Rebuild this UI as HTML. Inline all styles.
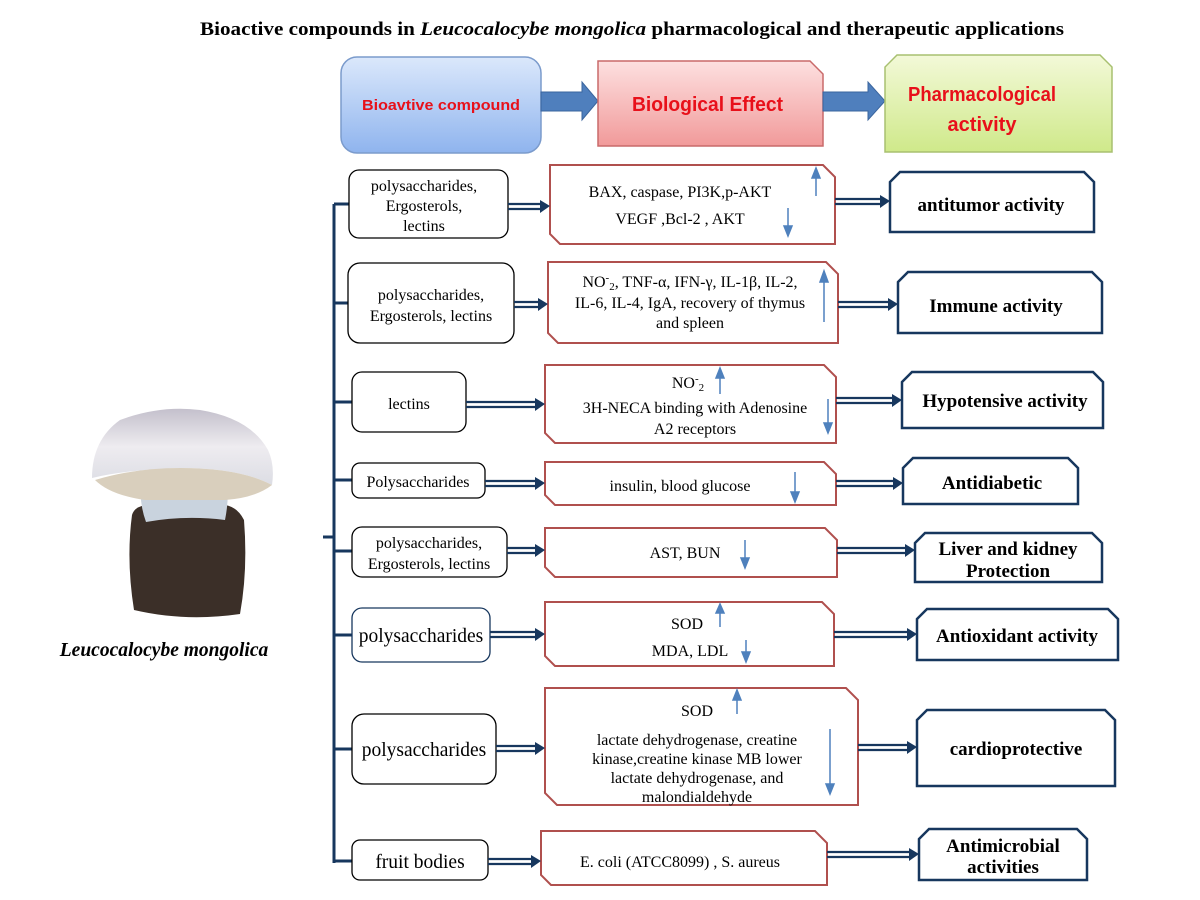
<!DOCTYPE html>
<html><head><meta charset="utf-8"><style>
body{margin:0;background:#fff}
svg{display:block}
text{font-family:"Liberation Serif",serif;fill:#000}
.s{font-size:16px}
.b{font-size:19px;font-weight:bold}
.h{font-family:"Liberation Sans",sans-serif;font-weight:bold;fill:#e8101a}
</style></head><body>
<svg width="1200" height="900" viewBox="0 0 1200 900" xmlns="http://www.w3.org/2000/svg">
<defs>
<linearGradient id="gb" x1="0" y1="0" x2="0" y2="1"><stop offset="0" stop-color="#dbe8fb"/><stop offset="1" stop-color="#8fb4ee"/></linearGradient>
<linearGradient id="gp" x1="0" y1="0" x2="0" y2="1"><stop offset="0" stop-color="#fde0e0"/><stop offset="1" stop-color="#f19a9a"/></linearGradient>
<linearGradient id="gg" x1="0" y1="0" x2="0" y2="1"><stop offset="0" stop-color="#f3f9d8"/><stop offset="1" stop-color="#cfe98a"/></linearGradient>
<linearGradient id="cap" x1="0" y1="0" x2="0" y2="1"><stop offset="0" stop-color="#c4c0cc"/><stop offset="0.5" stop-color="#eeecf0"/><stop offset="1" stop-color="#dcdde4"/></linearGradient>
</defs>
<text x="200" y="35" textLength="864" lengthAdjust="spacingAndGlyphs" style="font-size:19px;font-weight:bold">Bioactive compounds in <tspan font-style="italic">Leucocalocybe mongolica</tspan> pharmacological and therapeutic applications</text>

<!-- header -->
<rect x="341" y="57" width="200" height="96" rx="16" fill="url(#gb)" stroke="#7b9bcc" stroke-width="1.5"/>
<text x="362" y="110" textLength="158" lengthAdjust="spacingAndGlyphs" class="h" style="font-size:15px">Bioavtive compound</text>
<polygon points="541,92 582,92 582,82 598,101 582,120 582,111 541,111" fill="#4f7fbd" stroke="#3a659e"/>
<polygon points="598,61 810,61 823,74 823,146 598,146" fill="url(#gp)" stroke="#c96a6a" stroke-width="1.5"/>
<text x="632" y="111" textLength="151" lengthAdjust="spacingAndGlyphs" class="h" style="font-size:20px">Biological Effect</text>
<polygon points="823,92 868,92 868,82 885,101 868,120 868,111 823,111" fill="#4f7fbd" stroke="#3a659e"/>
<polygon points="897,55 1100,55 1112,67 1112,152 885,152 885,67" fill="url(#gg)" stroke="#a8c070" stroke-width="1.5"/>
<text x="908" y="101" textLength="148" lengthAdjust="spacingAndGlyphs" class="h" style="font-size:20px">Pharmacological</text>
<text x="982" y="131" text-anchor="middle" class="h" style="font-size:20px">activity</text>

<!-- mushroom -->
<path d="M132 515 Q126 560 134 610 Q185 622 240 614 Q248 570 244 520 Q235 502 215 505 L150 505 Q135 505 132 515 Z" fill="#3b2f28"/>
<path d="M142 478 Q138 500 146 522 Q185 515 225 520 Q230 495 226 475 Z" fill="#c9d3de"/>
<path d="M92 478 Q92 440 120 420 Q160 405 200 410 Q250 418 268 450 Q275 465 272 485 Q240 468 180 468 Q125 470 92 478 Z" fill="url(#cap)"/>
<path d="M95 480 Q135 468 180 468 Q240 468 272 485 Q255 498 225 500 L145 500 Q110 495 95 480 Z" fill="#d9cfbd"/>
<text x="164" y="656" text-anchor="middle" style="font-size:19.5px;font-weight:bold;font-style:italic">Leucocalocybe mongolica</text>

<!-- tree -->
<g stroke="#17375e" stroke-width="3" fill="none">
<line x1="334" y1="204" x2="334" y2="863"/>
<line x1="323" y1="537" x2="334" y2="537"/>
<line x1="334" y1="204" x2="349" y2="204"/>
<line x1="334" y1="303" x2="348" y2="303"/>
<line x1="334" y1="402" x2="352" y2="402"/>
<line x1="334" y1="480" x2="352" y2="480"/>
<line x1="334" y1="551" x2="352" y2="551"/>
<line x1="334" y1="635" x2="352" y2="635"/>
<line x1="334" y1="749" x2="352" y2="749"/>
<line x1="334" y1="861" x2="352" y2="861"/>
</g>

<!-- left boxes -->
<g fill="#fff" stroke="#000" stroke-width="1.3">
<rect x="349" y="170" width="159" height="68" rx="10"/>
<rect x="348" y="263" width="166" height="80" rx="12"/>
<rect x="352" y="372" width="114" height="60" rx="10"/>
<rect x="352" y="463" width="133" height="35" rx="8"/>
<rect x="352" y="527" width="155" height="50" rx="10"/>
<rect x="352" y="608" width="138" height="54" rx="10" stroke="#17375e"/>
<rect x="352" y="714" width="144" height="70" rx="12"/>
<rect x="352" y="840" width="136" height="40" rx="8"/>
</g>
<g class="s" text-anchor="middle">
<text x="424" y="191">polysaccharides,</text><text x="424" y="211">Ergosterols,</text><text x="424" y="231">lectins</text>
<text x="431" y="300">polysaccharides,</text><text x="431" y="321">Ergosterols,  lectins</text>
<text x="409" y="409">lectins</text>
<text x="418" y="487">Polysaccharides</text>
<text x="429" y="548">polysaccharides,</text><text x="429" y="569">Ergosterols, lectins</text>
<text x="421" y="642" style="font-size:19.5px">polysaccharides</text>
<text x="424" y="756" style="font-size:19.5px">polysaccharides</text>
<text x="420" y="868" style="font-size:19.5px">fruit bodies</text>
</g>

<!-- middle boxes -->
<g fill="#fff" stroke="#b0504e" stroke-width="2">
<polygon points="550,165 823,165 835,177 835,244 560,244 550,234"/>
<polygon points="548,262 826,262 838,274 838,343 558,343 548,333"/>
<polygon points="545,365 824,365 836,377 836,443 555,443 545,433"/>
<polygon points="545,462 824,462 836,474 836,505 555,505 545,495"/>
<polygon points="545,528 825,528 837,540 837,577 555,577 545,567"/>
<polygon points="545,602 822,602 834,614 834,666 555,666 545,656"/>
<polygon points="545,688 846,688 858,700 858,805 557,805 545,793"/>
<polygon points="541,831 815,831 827,843 827,885 551,885 541,875"/>
</g>
<g class="s" text-anchor="middle">
<text x="680" y="197">BAX, caspase, PI3K,p-AKT</text><text x="680" y="224">VEGF ,Bcl-2 , AKT</text>
<text x="690" y="287">NO<tspan font-size="11" dy="-6">-</tspan><tspan font-size="11" dy="9">2</tspan><tspan dy="-3">, TNF-α, IFN-γ, IL-1β, IL-2,</tspan></text>
<text x="690" y="308">IL-6, IL-4, IgA, recovery of thymus</text><text x="690" y="328">and  spleen</text>
<text x="688" y="388">NO<tspan font-size="11" dy="-6">-</tspan><tspan font-size="11" dy="9">2</tspan></text>
<text x="695" y="413">3H-NECA binding with Adenosine</text><text x="695" y="434">A2 receptors</text>
<text x="680" y="491">insulin, blood glucose</text>
<text x="685" y="558">AST, BUN</text>
<text x="687" y="629">SOD</text><text x="690" y="656">MDA, LDL</text>
<text x="697" y="716">SOD</text>
<text x="697" y="745">lactate dehydrogenase,  creatine</text>
<text x="697" y="764">kinase,creatine kinase MB    lower</text>
<text x="697" y="783">lactate dehydrogenase,  and</text>
<text x="697" y="802">malondialdehyde</text>
<text x="680" y="867">E. coli (ATCC8099) , S. aureus</text>
</g>
<!-- up/down arrows -->
<g stroke="#4f81bd" stroke-width="1.5" fill="#4f81bd">
<line x1="816" y1="196" x2="816" y2="176"/><polygon points="812,178 816,168 820,178"/>
<line x1="788" y1="208" x2="788" y2="228"/><polygon points="784,226 788,236 792,226"/>
<line x1="824" y1="322" x2="824" y2="280"/><polygon points="820,282 824,271 828,282"/>
<line x1="720" y1="394" x2="720" y2="376"/><polygon points="716,378 720,368 724,378"/>
<line x1="828" y1="399" x2="828" y2="425"/><polygon points="824,423 828,433 832,423"/>
<line x1="795" y1="472" x2="795" y2="494"/><polygon points="791,492 795,502 799,492"/>
<line x1="745" y1="540" x2="745" y2="560"/><polygon points="741,558 745,568 749,558"/>
<line x1="720" y1="627" x2="720" y2="611"/><polygon points="716,613 720,604 724,613"/>
<line x1="746" y1="640" x2="746" y2="654"/><polygon points="742,652 746,662 750,652"/>
<line x1="737" y1="714" x2="737" y2="698"/><polygon points="733,700 737,690 741,700"/>
<line x1="830" y1="729" x2="830" y2="786"/><polygon points="826,784 830,794 834,784"/>
</g>

<!-- double arrows -->
<g stroke="#17375e" stroke-width="2.2" fill="none">
<path d="M508 204 H542 M508 209 H542"/><path d="M835 199 H882 M835 204 H882"/>
<path d="M514 302 H540 M514 307 H540"/><path d="M838 302 H890 M838 307 H890"/>
<path d="M466 402 H537 M466 407 H537"/><path d="M836 398 H894 M836 403 H894"/>
<path d="M485 481 H537 M485 486 H537"/><path d="M836 481 H895 M836 486 H895"/>
<path d="M507 548 H537 M507 553 H537"/><path d="M837 548 H907 M837 553 H907"/>
<path d="M490 632 H537 M490 637 H537"/><path d="M834 632 H909 M834 637 H909"/>
<path d="M496 746 H537 M496 751 H537"/><path d="M858 745 H909 M858 750 H909"/>
<path d="M488 859 H533 M488 864 H533"/><path d="M827 852 H911 M827 857 H911"/>
</g>
<g fill="#17375e">
<polygon points="540,200 550,206 540,213"/><polygon points="880,195 890,201 880,208"/>
<polygon points="538,298 548,304 538,311"/><polygon points="888,298 898,304 888,311"/>
<polygon points="535,398 545,404 535,411"/><polygon points="892,394 902,400 892,407"/>
<polygon points="535,477 545,483 535,490"/><polygon points="893,477 903,483 893,490"/>
<polygon points="535,544 545,550 535,557"/><polygon points="905,544 915,550 905,557"/>
<polygon points="535,628 545,634 535,641"/><polygon points="907,628 917,634 907,641"/>
<polygon points="535,742 545,748 535,755"/><polygon points="907,741 917,747 907,754"/>
<polygon points="531,855 541,861 531,868"/><polygon points="909,848 919,854 909,861"/>
</g>

<!-- right boxes -->
<g fill="#fff" stroke="#17375e" stroke-width="2.5">
<polygon points="900,172 1084,172 1094,182 1094,232 890,232 890,182"/>
<polygon points="908,272 1092,272 1102,282 1102,333 898,333 898,282"/>
<polygon points="912,372 1093,372 1103,382 1103,428 902,428 902,382"/>
<polygon points="913,458 1068,458 1078,468 1078,504 903,504 903,468"/>
<polygon points="925,533 1092,533 1102,543 1102,582 915,582 915,543"/>
<polygon points="927,609 1108,609 1118,619 1118,660 917,660 917,619"/>
<polygon points="927,710 1105,710 1115,720 1115,786 917,786 917,720"/>
<polygon points="929,829 1077,829 1087,839 1087,880 919,880 919,839"/>
</g>
<g class="b" text-anchor="middle">
<text x="991" y="211">antitumor activity</text>
<text x="996" y="312">Immune activity</text>
<text x="1005" y="407">Hypotensive activity</text>
<text x="992" y="489">Antidiabetic</text>
<text x="1008" y="555">Liver and kidney</text><text x="1008" y="577">Protection</text>
<text x="1017" y="642">Antioxidant activity</text>
<text x="1016" y="755">cardioprotective</text>
<text x="1003" y="852">Antimicrobial</text><text x="1003" y="873">activities</text>
</g>
</svg>
</body></html>
